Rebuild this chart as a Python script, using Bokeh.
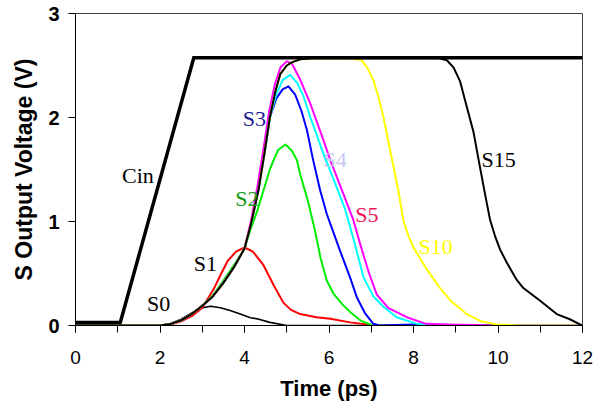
from bokeh.plotting import figure
from bokeh.models import SingleIntervalTicker, Range1d, ColumnDataSource
from bokeh.core.properties import value
from bokeh.embed import file_html
from bokeh.resources import INLINE

# ---------------- data (time in ps, voltage in V) ----------------
cin_t = [0.0, 1.06, 2.80, 12.0]
cin_v = [0.03, 0.03, 2.574, 2.574]

s0_t = [0, 1, 1.5, 2.0, 2.25, 2.5, 2.75, 3.0, 3.2, 3.43, 3.66, 3.9, 4.14, 4.3, 4.6, 5.0, 6, 8, 10, 12]
s0_v = [0, 0, 0, 0.0, 0.02, 0.06, 0.12, 0.17, 0.185, 0.17, 0.144, 0.11, 0.075, 0.064, 0.03, 0.0, 0, 0, 0, 0]

s1_t = [0, 1, 1.5, 2.0, 2.25, 2.5, 2.75, 3.0, 3.27, 3.45, 3.6, 3.8, 4.0, 4.2, 4.45, 4.7, 4.92, 5.1, 5.32, 5.7, 6.03, 6.5, 7.0, 7.5, 12]
s1_v = [0, 0, 0, 0.0, 0.01, 0.04, 0.09, 0.17, 0.35, 0.50, 0.62, 0.71, 0.75, 0.71, 0.58, 0.38, 0.22, 0.15, 0.11, 0.08, 0.064, 0.03, 0.005, 0.0, 0]

s2_t = [0, 1, 1.5, 2.0, 2.25, 2.5, 2.75, 3.0, 3.25, 3.5, 3.75, 4.0, 4.15, 4.3, 4.45, 4.6, 4.69, 4.8, 4.97, 5.12, 5.24, 5.32, 5.5, 5.67, 5.8, 5.95, 6.1, 6.3, 6.5, 6.74, 7.0, 7.5, 12]
s2_v = [0, 0, 0, 0.0, 0.015, 0.05, 0.11, 0.19, 0.29, 0.43, 0.58, 0.74, 0.93, 1.10, 1.30, 1.50, 1.59, 1.69, 1.74, 1.68, 1.59, 1.45, 1.20, 0.91, 0.65, 0.43, 0.31, 0.21, 0.13, 0.05, 0.005, 0, 0]

s3_t = [0, 1, 1.5, 2.0, 2.25, 2.5, 2.75, 3.0, 3.25, 3.5, 3.75, 4.0, 4.15, 4.33, 4.47, 4.6, 4.75, 4.9, 5.04, 5.2, 5.35, 5.48, 5.62, 5.79, 5.95, 6.1, 6.26, 6.5, 6.66, 6.85, 7.05, 7.2, 7.6, 8.0, 8.5, 12]
s3_v = [0, 0, 0, 0.0, 0.015, 0.05, 0.11, 0.19, 0.28, 0.41, 0.56, 0.74, 0.97, 1.30, 1.65, 2.0, 2.18, 2.27, 2.30, 2.22, 2.06, 1.875, 1.6, 1.30, 1.07, 0.9, 0.72, 0.46, 0.27, 0.12, 0.016, 0.0, 0.005, 0.01, 0, 0]

s4_t = [0, 1, 1.5, 2.0, 2.25, 2.5, 2.75, 3.0, 3.25, 3.5, 3.75, 4.0, 4.15, 4.33, 4.47, 4.6, 4.75, 4.9, 5.08, 5.25, 5.4, 5.56, 5.87, 6.19, 6.38, 6.6, 6.82, 7.05, 7.29, 7.6, 8.08, 8.5, 9.0, 12]
s4_v = [0, 0, 0, 0.0, 0.015, 0.05, 0.11, 0.19, 0.28, 0.41, 0.56, 0.74, 0.97, 1.30, 1.65, 2.0, 2.22, 2.36, 2.41, 2.33, 2.2, 2.0, 1.65, 1.32, 1.12, 0.8, 0.46, 0.28, 0.18, 0.08, 0.016, 0.005, 0, 0]

s5_t = [0, 1, 1.5, 2.0, 2.25, 2.5, 2.75, 3.0, 3.25, 3.5, 3.75, 4.0, 4.15, 4.3, 4.45, 4.58, 4.72, 4.85, 5.0, 5.12, 5.3, 5.56, 5.87, 6.03, 6.26, 6.58, 6.74, 6.95, 7.13, 7.4, 7.84, 8.3, 8.8, 9.5, 10.0, 12]
s5_v = [0, 0, 0, 0.0, 0.015, 0.05, 0.11, 0.19, 0.28, 0.41, 0.56, 0.74, 1.0, 1.32, 1.7, 2.05, 2.32, 2.48, 2.54, 2.52, 2.38, 2.13, 1.78, 1.59, 1.35, 1.01, 0.78, 0.5, 0.30, 0.17, 0.08, 0.016, 0.01, 0.005, 0, 0]

s10_t = [0, 1, 1.5, 2.0, 2.25, 2.5, 2.75, 3.0, 3.25, 3.5, 3.75, 4.0, 4.15, 4.33, 4.47, 4.6, 4.73, 4.85, 5.0, 5.12, 5.32, 5.6, 6.5, 6.78, 6.92, 7.05, 7.17, 7.29, 7.45, 7.64, 7.76, 7.88, 8.0, 8.3, 8.63, 8.9, 9.26, 9.6, 9.97, 10.5, 12]
s10_v = [0, 0, 0, 0.0, 0.015, 0.05, 0.11, 0.19, 0.28, 0.41, 0.56, 0.74, 0.97, 1.30, 1.65, 2.0, 2.25, 2.42, 2.50, 2.53, 2.56, 2.57, 2.57, 2.55, 2.47, 2.36, 2.2, 2.0, 1.68, 1.30, 1.01, 0.86, 0.75, 0.55, 0.36, 0.23, 0.11, 0.04, 0.01, 0, 0]

s15_t = [0, 1, 1.5, 2.0, 2.25, 2.5, 2.75, 3.0, 3.25, 3.5, 3.75, 4.0, 4.15, 4.33, 4.47, 4.6, 4.73, 4.85, 5.0, 5.12, 5.32, 5.6, 8.6, 8.79, 8.95, 9.1, 9.25, 9.42, 9.57, 9.69, 9.81, 9.93, 10.05, 10.2, 10.44, 10.6, 10.99, 11.39, 11.7, 11.94, 12]
s15_v = [0, 0, 0, 0.0, 0.015, 0.05, 0.11, 0.19, 0.28, 0.41, 0.56, 0.74, 0.97, 1.30, 1.65, 2.0, 2.25, 2.42, 2.50, 2.53, 2.56, 2.57, 2.57, 2.55, 2.48, 2.35, 2.12, 1.86, 1.53, 1.27, 1.02, 0.86, 0.73, 0.61, 0.44, 0.36, 0.24, 0.11, 0.06, 0.01, 0.0]

label_text = ["Cin", "S0", "S1", "S2", "S3", "S4", "S5", "S10", "S15"]
label_t = [1.10, 1.69, 2.80, 3.78, 3.96, 5.87, 6.62, 8.12, 9.61]
label_v = [1.44, 0.21, 0.60, 1.22, 1.99, 1.60, 1.07, 0.76, 1.60]
label_color = ["#000000", "#000000", "#000000", "#139913", "#1c1c96", "#c8c8f0", "#f0145a", "#ffff00", "#000000"]

# ---------------- figure ----------------
p = figure(width=595, height=404, x_range=Range1d(0, 12), y_range=Range1d(0, 3),
           output_backend="svg", toolbar_location=None,
           min_border_left=75, min_border_right=13, min_border_top=13, min_border_bottom=79)
p.background_fill_color = "white"
p.border_fill_color = "white"
p.xgrid.visible = False
p.ygrid.visible = False
p.outline_line_color = "#404040"
p.outline_line_width = 1

p.xaxis.ticker = SingleIntervalTicker(interval=2, num_minor_ticks=2)
p.yaxis.ticker = SingleIntervalTicker(interval=1, num_minor_ticks=0)
for ax in (p.xaxis[0], p.yaxis[0]):
    ax.axis_line_color = "black"
    ax.major_tick_line_color = "black"
    ax.minor_tick_line_color = "black"
    ax.major_tick_in = 0
    ax.major_tick_out = 7
    ax.minor_tick_in = 0
    ax.minor_tick_out = 7
    ax.major_label_text_color = "black"
    ax.major_label_text_font = "Liberation Sans"
    ax.axis_label_text_font = "Liberation Sans"
    ax.axis_label_text_font_style = "bold"
    ax.axis_label_text_color = "black"

p.xaxis.major_label_text_font_size = "19px"
p.xaxis.major_label_text_font_style = "normal"
p.xaxis.major_label_standoff = 18
p.xaxis.axis_label = "Time (ps)"
p.xaxis.axis_label_text_font_size = "22px"
p.xaxis.axis_label_standoff = 9

p.yaxis.major_label_text_font_size = "20px"
p.yaxis.major_label_text_font_style = "bold"
p.yaxis.major_label_standoff = 9
p.yaxis.axis_label = "S Output Voltage (V)"
p.yaxis.axis_label_text_font_size = "23px"
p.yaxis.axis_label_standoff = 8

series = [
    (s0_t, s0_v, "black", 1.6),
    (s1_t, s1_v, "#ff0000", 2),
    (s2_t, s2_v, "#00ee00", 2),
    (s3_t, s3_v, "#0000ff", 2),
    (s4_t, s4_v, "#00ffff", 2),
    (s5_t, s5_v, "#ff00ff", 2),
    (s10_t, s10_v, "#ffff00", 2),
    (s15_t, s15_v, "black", 2),
]
for t, v, c, w in series:
    p.line(t, v, line_color=c, line_width=w, line_join="round")

p.line(cin_t, cin_v, line_color="black", line_width=3.5, line_join="miter")

src = ColumnDataSource(dict(x=label_t, y=label_v, text=label_text, color=label_color))
p.text(x="x", y="y", text="text", text_color="color", source=src,
       text_font=value("Liberation Serif"), text_font_size="22px",
       text_align="left", text_baseline="middle")

open("out.html", "w").write(file_html(p, INLINE))
